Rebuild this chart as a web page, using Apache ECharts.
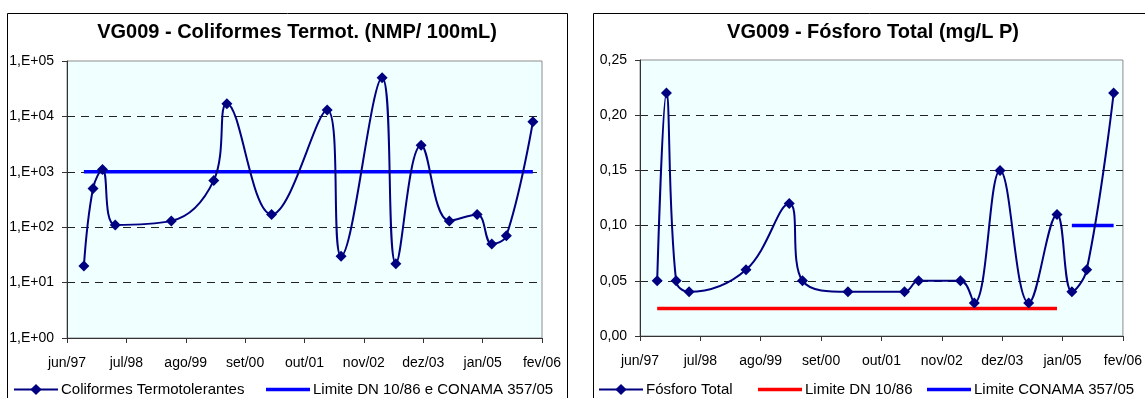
<!DOCTYPE html>
<html>
<head>
<meta charset="utf-8">
<script src="https://cdn.jsdelivr.net/npm/echarts@6/dist/echarts.min.js"></script>
<style>
  html, body { margin: 0; padding: 0; background: #ffffff; }
  #chart { width: 1145px; height: 398px; }
</style>
</head>
<body>
<div id="chart"></div>
<script>
// Sampling dates shared by both parameters (station VG009)
const sampleDates = [
  '1997-09-22', '1997-11-22', '1998-01-25', '1998-04-18', '1999-04-26',
  '2000-02-05', '2000-05-01', '2001-02-23', '2002-02-28', '2002-06-01',
  '2003-03-01', '2003-06-01', '2003-11-17', '2004-05-23', '2004-11-25',
  '2005-03-01', '2005-06-07', '2005-12-01'
];

// Thermotolerant coliforms (NMP/100mL)
const coliformes = [20, 500, 1100, 110, 130, 700, 17000, 170, 13000, 30,
  50000, 22, 3000, 130, 170, 50, 70, 8000];

// Total phosphorus (mg/L P)
const fosforo = [0.05, 0.22, 0.05, 0.04, 0.06, 0.12, 0.05, 0.04, 0.04, 0.05,
  0.05, 0.03, 0.15, 0.03, 0.11, 0.04, 0.06, 0.22];

// Legal limits: value and the period each one applies to
const limiteColiformes = { value: 1000, from: '1997-09-22', to: '2005-12-01' };
const limiteDN = { value: 0.025, from: '1997-09-22', to: '2004-11-25' };
const limiteCONAMA = { value: 0.10, from: '2005-03-01', to: '2005-12-01' };

// Axis tick labels
const xTickLabels = ['jun/97', 'jul/98', 'ago/99', 'set/00', 'out/01', 'nov/02', 'dez/03', 'jan/05', 'fev/06'];
const yTickLabelsColi = ['1,E+00', '1,E+01', '1,E+02', '1,E+03', '1,E+04', '1,E+05'];
const yTickLabelsFosf = ['0,00', '0,05', '0,10', '0,15', '0,20', '0,25'];

// The date axis is measured in months counted from 1 June 1997
const AXIS_START = { y: 1997, m: 6 };
const TICK_MONTHS = 13;
function toMonths(s) {
  const [y, m, d] = s.split('-').map(Number);
  const dim = new Date(y, m, 0).getDate();
  return (y - AXIS_START.y) * 12 + (m - AXIS_START.m) + (d - 1) / dim;
}
const xs = sampleDates.map(toMonths);
const pairs = (vals) => vals.map((v, i) => [xs[i], v]);
const limitLine = (lim) => [[toMonths(lim.from), lim.value], [toMonths(lim.to), lim.value]];

const FONT = "'Liberation Sans', Arial, sans-serif";
const NAVY = '#000080';
const BAR_ICON = 'path://M0,0H44V3.5H0Z';

function xAxis(gridIndex) {
  return {
    type: 'value', gridIndex,
    min: 0, max: TICK_MONTHS * (xTickLabels.length - 1), interval: TICK_MONTHS,
    axisLine: { show: true, lineStyle: { color: '#333333', width: 1 } },
    axisTick: { show: true, length: 5, lineStyle: { color: '#333333' } },
    axisLabel: {
      margin: 18, color: '#000', fontFamily: FONT, fontSize: 14,
      formatter: (v) => xTickLabels[Math.round(v / TICK_MONTHS)] || ''
    },
    splitLine: { show: false }
  };
}

function yAxisCommon(formatter) {
  return {
    axisLine: { show: true, lineStyle: { color: '#333333', width: 1 } },
    axisTick: { show: true, length: 5, lineStyle: { color: '#333333' } },
    axisLabel: { margin: 13, color: '#000', fontFamily: FONT, fontSize: 14, formatter },
    splitLine: { show: true, showMinLine: false, showMaxLine: false,
      lineStyle: { color: '#222', type: [8, 6], width: 1 } }
  };
}

const lineSeries = (name, xi, data) => ({
  name, type: 'line', xAxisIndex: xi, yAxisIndex: xi, data,
  smooth: 0.4, symbol: 'diamond', symbolSize: 11,
  itemStyle: { color: NAVY }, lineStyle: { color: NAVY, width: 2 },
  z: 3
});
const limitSeries = (name, xi, data, color) => ({
  name, type: 'line', xAxisIndex: xi, yAxisIndex: xi, data,
  symbol: 'none', showSymbol: false,
  itemStyle: { color }, lineStyle: { color, width: 3.5 },
  z: 2
});

// One legend block per entry so each sits under its own chart
function legendItem(left, name, icon) {
  const item = icon ? { name, icon } : { name };
  return {
    left, top: 382, padding: 0, itemWidth: 44, itemHeight: 14, itemGap: 0,
    data: [item],
    textStyle: { fontFamily: FONT, fontSize: 15, color: '#000', padding: [0, 0, 0, -2] }
  };
}

const titleStyle = { fontFamily: FONT, fontSize: 20, fontWeight: 'bold', color: '#000' };

const chart = echarts.init(document.getElementById('chart'), null, { renderer: 'canvas' });
chart.setOption({
  animation: false,
  backgroundColor: '#ffffff',
  textStyle: { fontFamily: FONT },
  graphic: [
    { type: 'rect', shape: { x: 7.5, y: 13.5, width: 560, height: 420 },
      style: { fill: 'none', stroke: '#000', lineWidth: 1 }, z: -1 },
    { type: 'rect', shape: { x: 593.5, y: 13.5, width: 600, height: 420 },
      style: { fill: 'none', stroke: '#000', lineWidth: 1 }, z: -1 }
  ],
  title: [
    { text: 'VG009 - Coliformes Termot. (NMP/ 100mL)', left: 297, top: 22, padding: 0,
      textAlign: 'center', textStyle: titleStyle },
    { text: 'VG009 - Fósforo Total (mg/L P)', left: 873, top: 22, padding: 0,
      textAlign: 'center', textStyle: titleStyle }
  ],
  legend: [
    legendItem(13, 'Coliformes Termotolerantes'),
    legendItem(266, 'Limite DN 10/86 e CONAMA 357/05', BAR_ICON),
    legendItem(598, 'Fósforo Total'),
    legendItem(758, 'Limite DN 10/86', BAR_ICON),
    legendItem(927, 'Limite CONAMA 357/05', BAR_ICON)
  ],
  grid: [
    { left: 67, top: 61, width: 475, height: 277, show: true,
      backgroundColor: '#F0FFFF', borderColor: '#8c8c8c', borderWidth: 1 },
    { left: 640, top: 60, width: 486, height: 276, show: true,
      backgroundColor: '#F0FFFF', borderColor: '#8c8c8c', borderWidth: 1 }
  ],
  xAxis: [xAxis(0), xAxis(1)],
  yAxis: [
    Object.assign({ type: 'log', logBase: 10, gridIndex: 0, min: 1, max: 100000 },
      yAxisCommon((v) => yTickLabelsColi[Math.round(Math.log10(v))] || '')),
    Object.assign({ type: 'value', gridIndex: 1, min: 0, max: 0.25, interval: 0.05 },
      yAxisCommon((v) => yTickLabelsFosf[Math.round(v / 0.05)] || ''))
  ],
  series: [
    lineSeries('Coliformes Termotolerantes', 0, pairs(coliformes)),
    limitSeries('Limite DN 10/86 e CONAMA 357/05', 0, limitLine(limiteColiformes), '#0000FF'),
    lineSeries('Fósforo Total', 1, pairs(fosforo)),
    limitSeries('Limite DN 10/86', 1, limitLine(limiteDN), '#FF0000'),
    limitSeries('Limite CONAMA 357/05', 1, limitLine(limiteCONAMA), '#0000FF')
  ]
});
</script>
</body>
</html>
